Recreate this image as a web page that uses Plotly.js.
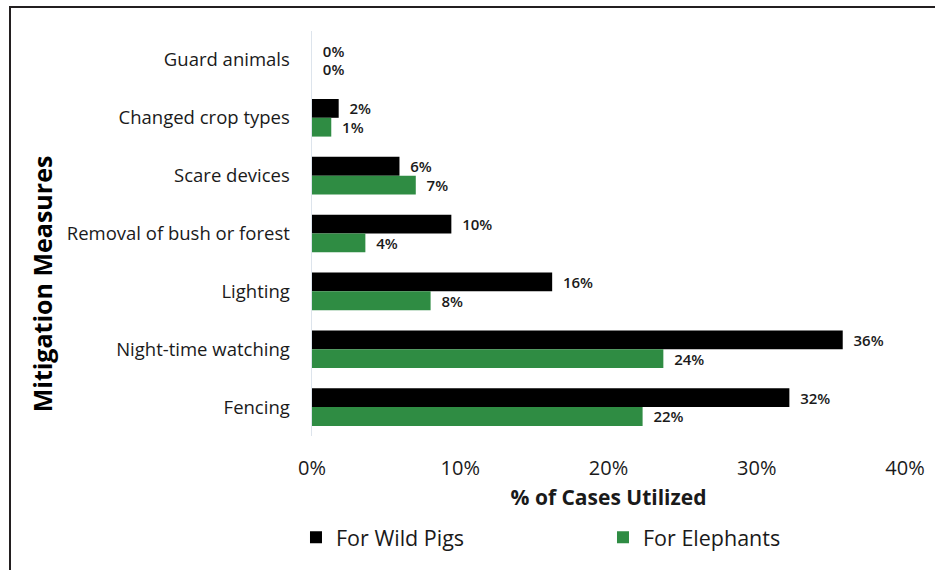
<!DOCTYPE html>
<html>
<head>
<meta charset="utf-8">
<script src="https://cdn.plot.ly/plotly-3.0.1.min.js"></script>
<style>
html,body{margin:0;padding:0;background:#fff;}
#wrap{position:relative;width:935px;height:570px;}
#chart{width:935px;height:570px;}
#frame{position:absolute;left:9px;top:6px;width:940px;height:580px;border-top:2px solid #231f20;border-left:2px solid #231f20;pointer-events:none;}
</style>
</head>
<body>
<div id="wrap"><div id="chart"></div><div id="frame"></div></div>
<script>
const categories = ['Guard animals','Changed crop types','Scare devices','Removal of bush or forest','Lighting','Night-time watching','Fencing'];
const pigValues = [0, 1.8, 5.9, 9.4, 16.2, 35.8, 32.2];
const elephantValues = [0, 1.3, 7.0, 3.6, 8.0, 23.7, 22.3];
const pigLabels = ['0%','2%','6%','10%','16%','36%','32%'];
const elephantLabels = ['0%','1%','7%','4%','8%','24%','22%'];
const xTickVals = [0,10,20,30,40];
const xTickText = ['0%','10%','20%','30%','40%'];

const FONT = 'Open Sans, Lato, sans-serif';
const labelFont = {family: FONT, size: 15, color: '#1a1a1a', weight: 600};
const pad = s => '\u00a0\u00a0' + s;

const traces = [
  {type:'bar', orientation:'h', name:'For Wild Pigs', y:categories, x:pigValues,
   text:pigLabels.map(pad), textposition:'outside', cliponaxis:false, constraintext:'none',
   textfont:labelFont, marker:{color:'#000000'}, hoverinfo:'skip'},
  {type:'bar', orientation:'h', name:'For Elephants', y:categories, x:elephantValues,
   text:elephantLabels.map(pad), textposition:'outside', cliponaxis:false, constraintext:'none',
   textfont:labelFont, marker:{color:'#2f8c43'}, hoverinfo:'skip'}
];

const layout = {
  width:935, height:570,
  margin:{l:312, r:30, t:31, b:134},
  paper_bgcolor:'#ffffff', plot_bgcolor:'#ffffff',
  barmode:'group', bargap:0.35, bargroupgap:0,
  font:{family:FONT, color:'#1a1a1a'},
  showlegend:true,
  legend:{orientation:'h', x:-0.027, xanchor:'left', y:-0.25, yanchor:'middle',
          entrywidth:262, entrywidthmode:'pixels',
          font:{family:FONT, size:21.5, color:'#1a1a1a'}, itemwidth:30},
  xaxis:{range:[0,40], tickvals:xTickVals, ticktext:xTickText, showgrid:false, zeroline:false,
         showline:false, ticks:'outside', ticklen:14, tickcolor:'rgba(0,0,0,0)',
         tickfont:{family:FONT, size:20, color:'#1a1a1a'},
         title:{text:'% of Cases Utilized', font:{family:FONT, size:21, color:'#1a1a1a', weight:700}, standoff:10},
         fixedrange:true},
  yaxis:{type:'category', categoryorder:'array', categoryarray:categories, autorange:'reversed',
         showgrid:false, zeroline:false, showline:true, linecolor:'#dde4ec', linewidth:1.5,
         ticks:'outside', ticklen:17, tickcolor:'rgba(0,0,0,0)',
         tickfont:{family:FONT, size:18.5, color:'#1a1a1a'}, fixedrange:true},
  annotations:[{text:'Mitigation Measures', xref:'paper', yref:'paper', x:-0.456, y:0.376,
                xanchor:'center', yanchor:'middle', textangle:-90, showarrow:false,
                font:{family:FONT, size:25, color:'#000', weight:700}}]
};

Plotly.newPlot('chart', traces, layout, {displayModeBar:false, staticPlot:true});
</script>
</body>
</html>
